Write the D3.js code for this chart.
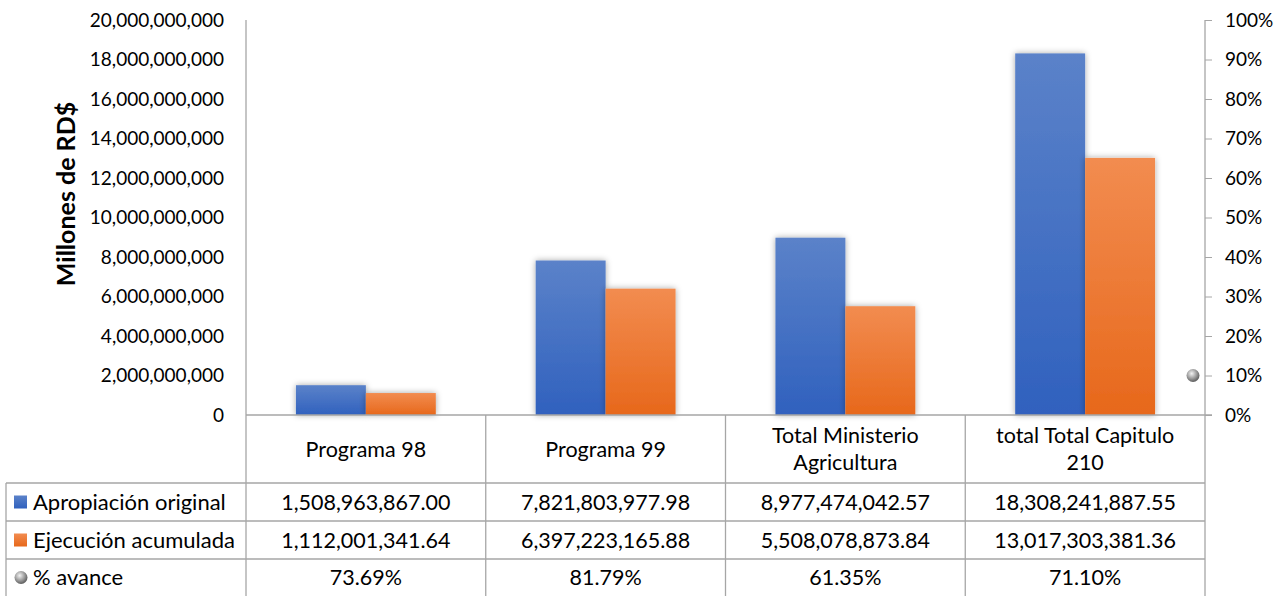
<!DOCTYPE html>
<html><head><meta charset="utf-8">
<script src="https://cdn.jsdelivr.net/npm/d3@7"></script>
<style>
html,body{margin:0;padding:0;background:#fff;}
svg{display:block;font-family:Lato, "Open Sans", sans-serif;}
</style></head>
<body>
<svg id="c" width="1285" height="596"></svg>
<script>
const categories = ["Programa 98", "Programa 99", "Total Ministerio Agricultura", "total Total Capitulo 210"];
const categoryLines = [["Programa 98"], ["Programa 99"], ["Total Ministerio", "Agricultura"], ["total Total Capitulo", "210"]];
const apropiacion = [1508963867.00, 7821803977.98, 8977474042.57, 18308241887.55];
const ejecucion = [1112001341.64, 6397223165.88, 5508078873.84, 13017303381.36];
const avance = [0.7369, 0.8179, 0.6135, 0.7110];
const avanceMarker = [0.10];
const seriesNames = ["Apropiación original", "Ejecución acumulada", "% avance"];
const leftTicks = d3.range(0, 20e9 + 1, 2e9);
const rightTicks = d3.range(0, 1.0001, 0.1);

(function () {
const svg = d3.select("#c");
const W = 1285, H = 596;
const pL = 246, pR = 1205, pT = 20, base = 415;
const rowY = [415, 483, 521, 559, 596];
const tableLeft = 6;
const axisFont = 19, tableFont = 21.5;

const defs = svg.append("defs");
function grad(id, c1, c2) {
  const g = defs.append("linearGradient").attr("id", id).attr("x1", 0).attr("y1", 0).attr("x2", 0).attr("y2", 1);
  g.append("stop").attr("offset", "0%").attr("stop-color", c1);
  g.append("stop").attr("offset", "100%").attr("stop-color", c2);
}
grad("gBlue", "#5b82c9", "#3061be");
grad("gOrange", "#f28c50", "#e7681b");
const rg = defs.append("radialGradient").attr("id", "gDot").attr("cx", "40%").attr("cy", "35%").attr("r", "65%");
rg.append("stop").attr("offset", "0%").attr("stop-color", "#f2f2f2");
rg.append("stop").attr("offset", "60%").attr("stop-color", "#9a9a9a");
rg.append("stop").attr("offset", "100%").attr("stop-color", "#5e5e5e");
const f = defs.append("filter").attr("id", "shadow").attr("x", "-30%").attr("y", "-30%").attr("width", "160%").attr("height", "160%");
f.append("feDropShadow").attr("dx", 0).attr("dy", 0).attr("stdDeviation", 3).attr("flood-color", "#000").attr("flood-opacity", 0.35);

const x = d3.scaleBand().domain(categories).range([pL, pR]).paddingInner(0.4167).paddingOuter(0.2083);
const xs = d3.scaleBand().domain([0, 1]).range([0, x.bandwidth()]);
const y = d3.scaleLinear().domain([0, 20e9]).range([base, pT]);
const yR = d3.scaleLinear().domain([0, 1]).range([base, pT]);

const yAxis = d3.axisLeft(y).tickValues(leftTicks).tickSize(0).tickPadding(22).tickFormat(d3.format(",.0f"));
const gL = svg.append("g").attr("transform", `translate(${pL},0)`).call(yAxis);
gL.select(".domain").remove();
gL.selectAll("text").attr("font-size", axisFont).attr("fill", "#000").attr("font-family", "Lato, sans-serif");

const rAxis = d3.axisRight(yR).tickValues(rightTicks).tickSize(7).tickPadding(13).tickFormat(d3.format(".0%"));
const gR = svg.append("g").attr("transform", `translate(${pR},0)`).call(rAxis);
gR.select(".domain").remove();
gR.selectAll("line").attr("stroke", "#a6a6a6");
gR.selectAll("text").attr("font-size", axisFont).attr("fill", "#000").attr("font-family", "Lato, sans-serif");

svg.append("text").attr("transform", `translate(75,194) rotate(-90)`)
  .attr("text-anchor", "middle").attr("font-size", 25).attr("font-weight", "bold").attr("fill", "#000")
  .text("Millones de RD$");

const series = [apropiacion, ejecucion];
const fills = ["url(#gBlue)", "url(#gOrange)"];
series.forEach((vals, si) => {
  svg.append("g").selectAll("rect").data(vals).join("rect")
    .attr("x", (d, i) => x(categories[i]) + xs(si))
    .attr("width", xs.bandwidth())
    .attr("y", d => y(d))
    .attr("height", d => base - y(d))
    .attr("fill", fills[si])
    .attr("filter", "url(#shadow)");
});

svg.append("g").selectAll("circle").data(avanceMarker).join("circle")
  .attr("cx", pR - 12).attr("cy", d => yR(d)).attr("r", 6.5).attr("fill", "url(#gDot)");

const lc = "#a6a6a6";
const lines = svg.append("g").attr("stroke", lc).attr("stroke-width", 1.3).attr("fill", "none");
lines.append("line").attr("x1", pL).attr("x2", pL).attr("y1", pT).attr("y2", H);
lines.append("line").attr("x1", pR).attr("x2", pR).attr("y1", pT).attr("y2", H);
lines.append("line").attr("x1", pL).attr("x2", pR + 7).attr("y1", base).attr("y2", base);
[1, 2, 3].forEach(k => lines.append("line").attr("x1", tableLeft).attr("x2", pR).attr("y1", rowY[k]).attr("y2", rowY[k]));
lines.append("line").attr("x1", tableLeft).attr("x2", tableLeft).attr("y1", rowY[1]).attr("y2", H);
categories.forEach((c, i) => {
  if (i > 0) {
    const xb = x(c) - x.step() * x.paddingInner() / 2;
    lines.append("line").attr("x1", xb).attr("x2", xb).attr("y1", base).attr("y2", H);
  }
});

const colCenter = c => x(c) + x.bandwidth() / 2;
categories.forEach((c, i) => {
  const ls = categoryLines[i];
  const cy = (rowY[0] + rowY[1]) / 2;
  const t = svg.append("text").attr("text-anchor", "middle").attr("font-size", tableFont).attr("fill", "#000");
  ls.forEach((l, j) => {
    t.append("tspan").attr("x", colCenter(c)).attr("y", cy + 7.5 + (j - (ls.length - 1) / 2) * 27).text(l);
  });
});

const fmtN = d3.format(",.2f");
const fmtP = d3.format(".2%");
const rows = [apropiacion.map(fmtN), ejecucion.map(fmtN), avance.map(fmtP)];
rows.forEach((r, ri) => {
  const cy = (rowY[ri + 1] + rowY[ri + 2]) / 2;
  r.forEach((v, i) => {
    svg.append("text").attr("x", colCenter(categories[i])).attr("y", cy + 7.5)
      .attr("text-anchor", "middle").attr("font-size", tableFont).attr("fill", "#000").text(v);
  });
  svg.append("text").attr("x", 33).attr("y", cy + 7.5).attr("font-size", 22).attr("fill", "#000").text(seriesNames[ri]);
});
const k0 = (rowY[1] + rowY[2]) / 2, k1 = (rowY[2] + rowY[3]) / 2, k2 = (rowY[3] + rowY[4]) / 2;
svg.append("rect").attr("x", 14).attr("y", k0 - 6.5).attr("width", 13).attr("height", 13).attr("fill", "url(#gBlue)");
svg.append("rect").attr("x", 14).attr("y", k1 - 6.5).attr("width", 13).attr("height", 13).attr("fill", "url(#gOrange)");
svg.append("circle").attr("cx", 21).attr("cy", k2).attr("r", 6.5).attr("fill", "url(#gDot)");
})();
</script>
</body></html>
